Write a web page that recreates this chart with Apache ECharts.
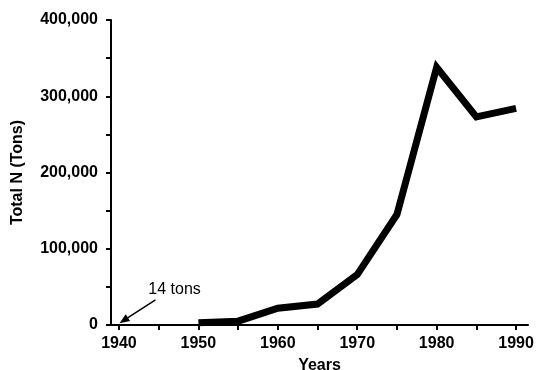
<!DOCTYPE html>
<html>
<head>
<meta charset="utf-8">
<script src="https://cdn.jsdelivr.net/npm/echarts@6/dist/echarts.min.js"></script>
<style>html,body{margin:0;padding:0;background:#fff}#c{width:537px;height:370px}</style>
</head>
<body>
<div id="c"></div>
<script>
var years = [1950, 1955, 1960, 1965, 1970, 1975, 1980, 1985, 1990];
var totalN = [3000, 5000, 22000, 27500, 66000, 145000, 338000, 273000, 284000];
var xTicks = [1940, 1945, 1950, 1955, 1960, 1965, 1970, 1975, 1980, 1985, 1990];
var xLabels = [1940, 1950, 1960, 1970, 1980, 1990];
var yLabels = [0, 100000, 200000, 300000, 400000];
var noteText = '14 tons';
var noteArrowFrom = [1944.6, 32900];
var noteArrowTo = [1940.6, 6000];
var notePos = [1947.0, 46000];

var chart = echarts.init(document.getElementById('c'), null, {renderer: 'canvas'});
var fontFam = '"Liberation Sans", Arial, Helvetica, sans-serif';
chart.setOption({
  animation: false,
  backgroundColor: '#fff',
  grid: {left: 111, right: 9, top: 20, bottom: 45, containLabel: false, outerBoundsMode: 'none'},
  xAxis: {
    type: 'value', min: 1939, max: 1991.5,
    name: 'Years', nameLocation: 'middle', nameGap: 33,
    nameTextStyle: {fontFamily: fontFam, fontWeight: 'bold', fontSize: 16, color: '#000'},
    axisLine: {lineStyle: {color: '#000', width: 2}},
    axisTick: {show: true, customValues: xTicks, length: 5, inside: false, lineStyle: {color: '#000', width: 2}},
    axisLabel: {
      customValues: xLabels, margin: 11, fontFamily: fontFam, fontWeight: 'bold', fontSize: 16, color: '#000',
      formatter: function (v) { return String(v); }
    },
    splitLine: {show: false}
  },
  yAxis: {
    type: 'value', min: 0, max: 400000, interval: 50000,
    name: 'Total N (Tons)', nameLocation: 'middle', nameGap: 85, nameRotate: 90,
    nameTextStyle: {fontFamily: fontFam, fontWeight: 'bold', fontSize: 16, color: '#000'},
    axisLine: {show: true, lineStyle: {color: '#000', width: 2}},
    axisTick: {show: true, length: 5, lineStyle: {color: '#000', width: 2}},
    axisLabel: {
      margin: 13, fontFamily: fontFam, fontWeight: 'bold', fontSize: 16, color: '#000',
      formatter: function (v) {
        if (yLabels.indexOf(v) < 0) return '';
        return v.toString().replace(/\B(?=(\d{3})+(?!\d))/g, ',');
      }
    },
    splitLine: {show: false}
  },
  series: [{
    type: 'line',
    data: years.map(function (y, i) { return [y, totalN[i]]; }),
    showSymbol: false,
    lineStyle: {color: '#000', width: 7, join: 'miter'},
    markLine: {
      silent: true,
      symbol: ['none', 'triangle'],
      symbolSize: [8, 10],
      lineStyle: {color: '#000', width: 1.5, type: 'solid'},
      label: {show: false},
      data: [[{coord: noteArrowFrom}, {coord: noteArrowTo}]]
    },
    markPoint: {
      silent: true,
      symbol: 'circle', symbolSize: 0,
      label: {show: true, formatter: noteText, fontFamily: fontFam, fontSize: 16, color: '#000', position: 'inside'},
      data: [{coord: notePos}]
    }
  }]
});
</script>
</body>
</html>
